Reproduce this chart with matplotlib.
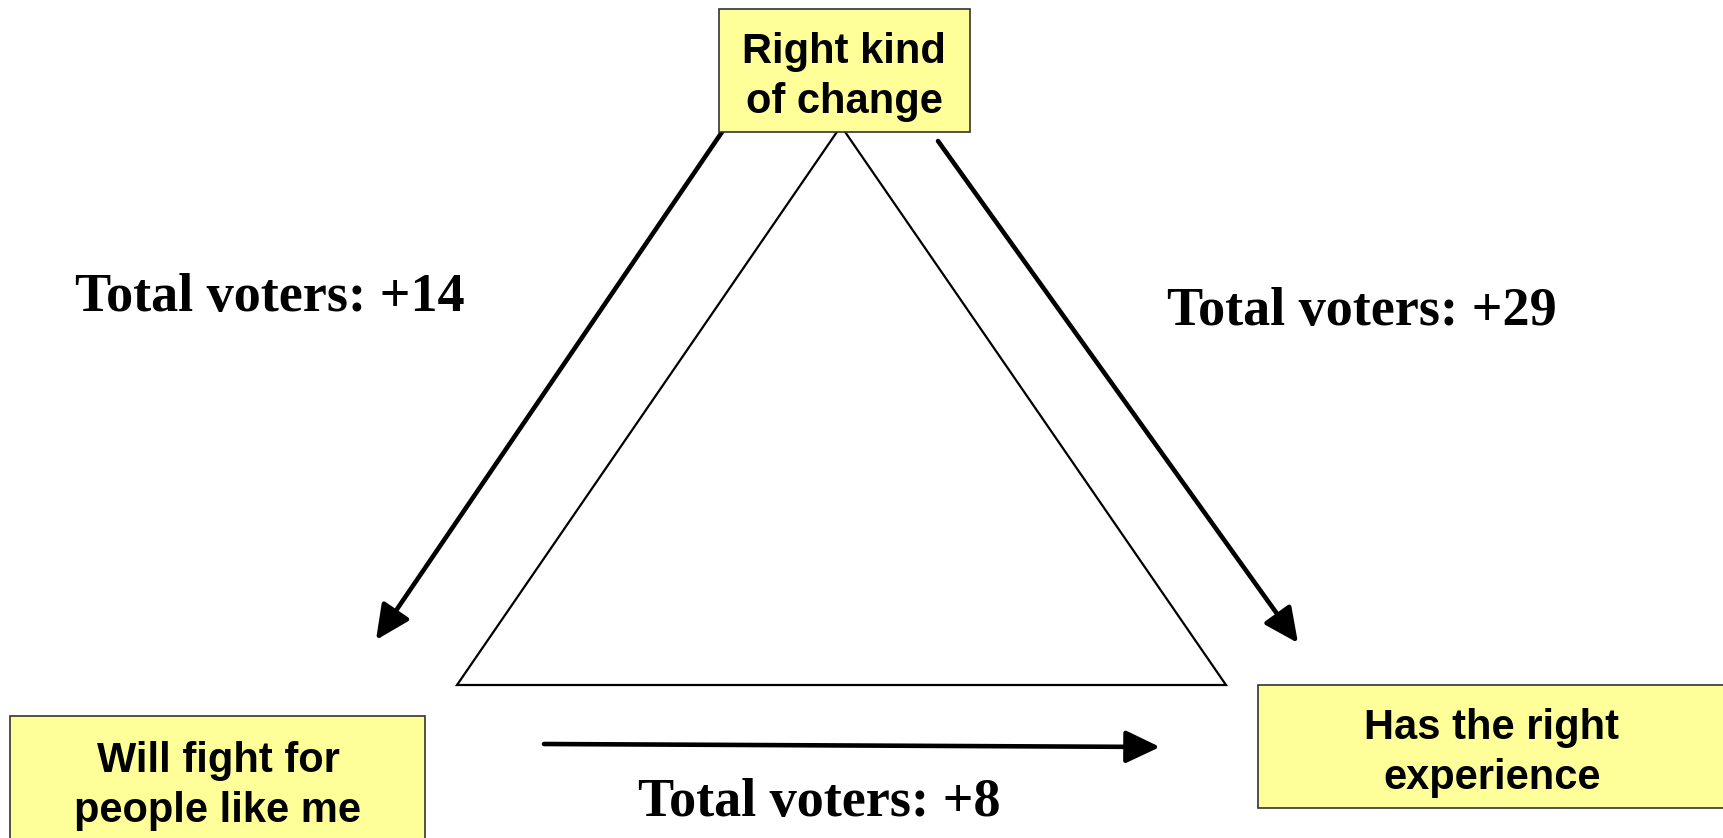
import matplotlib.pyplot as plt
from matplotlib.patches import Rectangle, Polygon

# --- Data ---
node_labels = ["Right kind\nof change", "Will fight for\npeople like me", "Has the right\nexperience"]
link_values = [14, 29, 8]  # change->fight, change->experience, fight->experience
link_prefix = "Total voters: "

W, H = 1724, 838
fig = plt.figure(figsize=(W / 100, H / 100), dpi=100)
ax = fig.add_axes([0, 0, 1, 1])
ax.set_xlim(0, W)
ax.set_ylim(H, 0)
ax.axis("off")

box_fill = "#FFFF99"
box_edge = "#333333"

# --- Boxes (x0, y0, x1, y1 in pixels) ---
boxes = [(719, 9, 970, 132), (10, 716, 425, 860), (1258, 685, 1760, 808)]
text_pos = [(844, 77), (218, 786), (1492, 753)]
for (x0, y0, x1, y1), lab, (tx, ty) in zip(boxes, node_labels, text_pos):
    ax.add_patch(Rectangle((x0, y0), x1 - x0, y1 - y0, facecolor=box_fill,
                           edgecolor=box_edge, lw=1.2, zorder=3))
    ax.text(tx, ty, lab, ha="center", va="center", ma="center", fontsize=30,
            fontweight="bold", family="Liberation Sans", linespacing=1.33, zorder=4)

# --- Central triangle ---
tri = Polygon([(841, 126), (457, 685), (1226, 685)], closed=True, fill=False,
              edgecolor="black", lw=1.6, zorder=2)
ax.add_patch(tri)

# --- Arrows ---
arrows = [((722, 132), (376, 640)), ((938, 141), (1298, 643)), ((544, 744), (1160, 747))]
for (sx, sy), (ex, ey) in arrows:
    ax.annotate("", xy=(ex, ey), xytext=(sx, sy),
                arrowprops=dict(arrowstyle="-|>,head_length=1.05,head_width=0.5",
                                lw=3.3, color="black", mutation_scale=20,
                                shrinkA=0, shrinkB=0), zorder=2)

# --- Link labels ---
label_pos = [(270, 311), (1362, 325), (819, 816)]
for v, (lx, ly) in zip(link_values, label_pos):
    ax.text(lx, ly, f"{link_prefix}+{v}", ha="center", va="baseline", fontsize=39,
            fontweight="bold", family="Liberation Serif", zorder=4)

fig.savefig("out.png", dpi=100)
